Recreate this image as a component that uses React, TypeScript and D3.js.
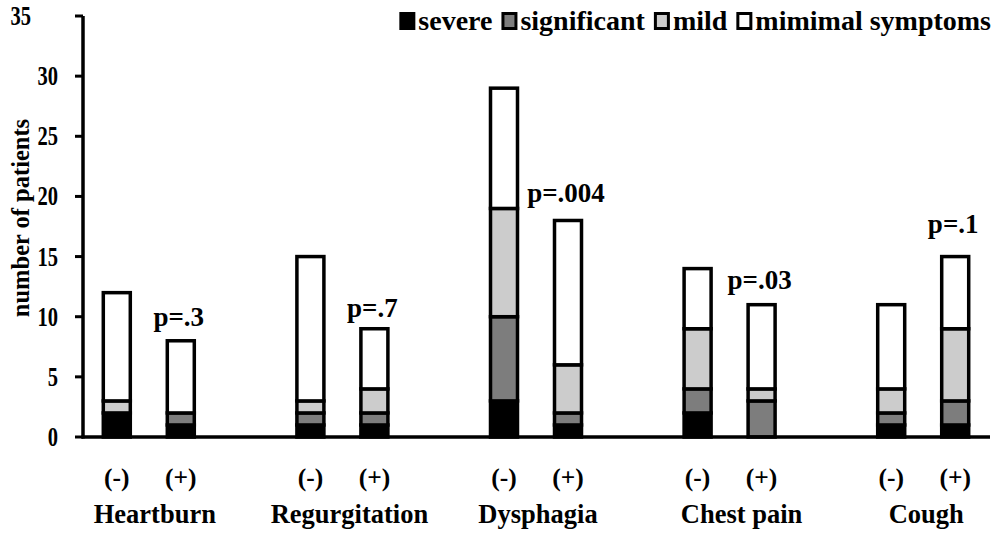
import React from "react";
import * as d3 from "d3";

const groups = ["Heartburn", "Regurgitation", "Dysphagia", "Chest pain", "Cough"];
const signs = ["(-)", "(+)"];
// order: Heartburn(-), Heartburn(+), Regurgitation(-), ...
const severe = [2, 1, 1, 1, 3, 1, 2, 0, 1, 1];
const significant = [0, 1, 1, 1, 7, 1, 2, 3, 1, 2];
const mild = [1, 0, 1, 2, 9, 4, 5, 1, 2, 6];
const minimal = [9, 6, 12, 5, 10, 12, 5, 7, 7, 6];
const pValues = ["p=.3", "p=.7", "p=.004", "p=.03", "p=.1"];
const pLabelAt = [9.2, 10.0, 19.5, 12.3, 17.0];
const yTicks = [0, 5, 10, 15, 20, 25, 30, 35];
const keys = ["severe", "significant", "mild", "minimal"];
const legendLabels = ["severe", "significant", "mild", "mimimal symptoms"];

const W = 996;
const H = 533;
const FONT = '"Liberation Serif"';
const fills: Record<string, string> = {
  severe: "#000000",
  significant: "#7d7d7d",
  mild: "#cccccc",
  minimal: "#ffffff",
};
const catNudge = [6, 7, 2, 12, 3];
const LEGEND_FS = 28;

function measure(text: string, size: number) {
  const c = document.createElement("canvas").getContext("2d");
  if (!c) return text.length * size * 0.5;
  c.font = `bold ${size}px "Liberation Serif"`;
  return c.measureText(text).width;
}

const ts = (size: number) => ({ fontFamily: FONT, fontWeight: 700 as const, fontSize: `${size}px` });

export default function App() {
  const rows = groups.flatMap((g, gi) =>
    signs.map((s, si) => {
      const i = gi * 2 + si;
      return {
        group: g,
        sign: s,
        severe: severe[i],
        significant: significant[i],
        mild: mild[i],
        minimal: minimal[i],
      };
    })
  );
  const stacked = d3.stack<any>().keys(keys)(rows);

  const y = d3.scaleLinear().domain([0, 35]).range([437, 16]);
  const x0 = d3.scaleBand().domain(groups).range([52, 1020]).padding(0);
  const step = x0.bandwidth();
  const x1 = d3.scalePoint().domain(signs).range([step / 2 - 32, step / 2 + 32]);
  const barW = 27;
  const cx = (r: any) => (x0(r.group) as number) + (x1(r.sign) as number);

  // legend layout, right-aligned to 990
  const sq = 16;
  const gapIn = 3;
  const gapOut = 9;
  const widths = legendLabels.map((l) => measure(l, LEGEND_FS));
  const total =
    widths.reduce((a, b) => a + b, 0) + legendLabels.length * (sq + gapIn) + (legendLabels.length - 1) * gapOut;
  let lx = 991 - total;
  const legendX = widths.map((w) => {
    const p = lx;
    lx += sq + gapIn + w + gapOut;
    return p;
  });

  return (
    <svg width={W} height={H} style={{ position: "absolute", left: 0, top: 0, background: "#fff" }}>
      {/* bars */}
      {stacked.map((layer) => (
        <g key={layer.key}>
          {layer.map((d, i) => {
            const h = y(d[0]) - y(d[1]);
            if (h <= 0) return null;
            return (
              <rect
                key={i}
                x={cx(rows[i]) - barW / 2}
                y={y(d[1])}
                width={barW}
                height={h}
                fill={fills[layer.key]}
                stroke="#000"
                strokeWidth={3.5}
              />
            );
          })}
        </g>
      ))}

      {/* axes */}
      <line x1={83} x2={83} y1={y(35)} y2={y(0) + 1.5} stroke="#000" strokeWidth={3.5} />
      <line x1={81.5} x2={990} y1={y(0)} y2={y(0)} stroke="#000" strokeWidth={3.5} />
      {yTicks.map((t) => {
        const label = String(t);
        const tl = measure(label, 27) * 0.76;
        return (
          <g key={t}>
            <line x1={75} x2={83} y1={y(t)} y2={y(t)} stroke="#000" strokeWidth={3} />
            <text
              x={(t === 35 ? 31 : 58) - tl}
              y={y(t) + 9}
              textLength={tl}
              lengthAdjust="spacingAndGlyphs"
              style={ts(27)}
            >
              {label}
            </text>
          </g>
        );
      })}
      <text transform={`translate(29,${218}) rotate(-90)`} textAnchor="middle" style={ts(24.5)}>
        number of patients
      </text>

      {/* x labels */}
      {rows.map((r, i) => (
        <text key={i} x={cx(r)} y={486} textAnchor="middle" style={ts(25.5)}>
          {r.sign}
        </text>
      ))}
      {groups.map((g, gi) => (
        <text
          key={g}
          x={(x0(g) as number) + step / 2 + catNudge[gi]}
          y={523}
          textAnchor="middle"
          style={ts(26.5)}
        >
          {g}
        </text>
      ))}

      {/* p values */}
      {groups.map((g, gi) => (
        <text
          key={g}
          x={(x0(g) as number) + (x1("(+)") as number) - 2}
          y={y(pLabelAt[gi])}
          textAnchor="middle"
          style={ts(27)}
        >
          {pValues[gi]}
        </text>
      ))}

      {/* legend */}
      {keys.map((k, i) => (
        <g key={k}>
          <rect
            x={legendX[i] + 1.5}
            y={13.5}
            width={sq - 3}
            height={15}
            fill={fills[k]}
            stroke="#000"
            strokeWidth={3}
          />
          <text x={legendX[i] + sq + gapIn} y={30} style={ts(LEGEND_FS)}>
            {legendLabels[i]}
          </text>
        </g>
      ))}
    </svg>
  );
}
